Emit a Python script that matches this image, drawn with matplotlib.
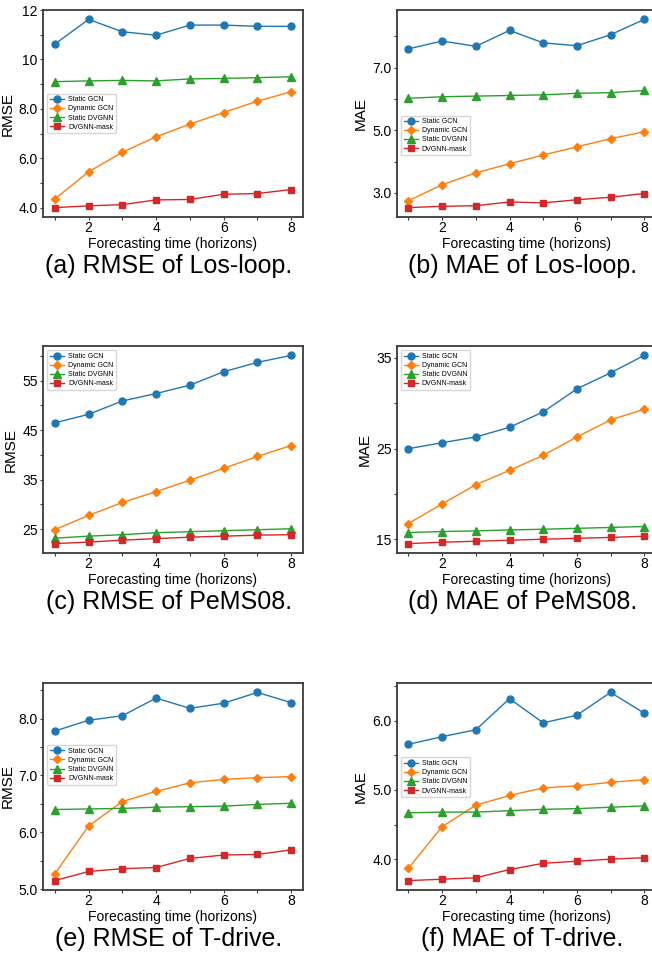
import matplotlib
matplotlib.use("Agg")
import matplotlib.pyplot as plt

plt.rcParams["font.family"] = ["Liberation Sans", "DejaVu Sans"]

horizons = [1, 2, 3, 4, 5, 6, 7, 8]
model_names = ["Static GCN", "Dynamic GCN", "Static DVGNN", "DVGNN-mask"]

# Los-loop
los_rmse_static_gcn = [10.62, 11.62, 11.12, 10.98, 11.39, 11.39, 11.34, 11.34]
los_rmse_dynamic_gcn = [4.35, 5.45, 6.24, 6.87, 7.38, 7.85, 8.31, 8.69]
los_rmse_static_dvgnn = [9.10, 9.13, 9.15, 9.13, 9.21, 9.23, 9.26, 9.30]
los_rmse_dvgnn_mask = [4.00, 4.07, 4.12, 4.31, 4.33, 4.54, 4.57, 4.73]

los_mae_static_gcn = [7.60, 7.85, 7.68, 8.19, 7.79, 7.70, 8.05, 8.54]
los_mae_dynamic_gcn = [2.75, 3.26, 3.64, 3.93, 4.21, 4.47, 4.73, 4.95]
los_mae_static_dvgnn = [6.02, 6.07, 6.09, 6.11, 6.13, 6.18, 6.20, 6.27]
los_mae_dvgnn_mask = [2.53, 2.57, 2.59, 2.71, 2.68, 2.78, 2.86, 2.98]

# PeMS08
pems_rmse_static_gcn = [46.5, 48.2, 50.9, 52.4, 54.1, 56.8, 58.7, 60.1]
pems_rmse_dynamic_gcn = [24.9, 27.8, 30.4, 32.6, 34.9, 37.3, 39.7, 41.9]
pems_rmse_static_dvgnn = [23.2, 23.6, 23.9, 24.3, 24.5, 24.7, 24.9, 25.1]
pems_rmse_dvgnn_mask = [22.1, 22.4, 22.8, 23.1, 23.4, 23.6, 23.8, 23.9]

pems_mae_static_gcn = [24.98, 25.64, 26.27, 27.34, 29.03, 31.57, 33.34, 35.26]
pems_mae_dynamic_gcn = [16.73, 18.90, 21.00, 22.59, 24.24, 26.27, 28.15, 29.33]
pems_mae_static_dvgnn = [15.74, 15.85, 15.92, 16.03, 16.10, 16.20, 16.30, 16.40]
pems_mae_dvgnn_mask = [14.52, 14.67, 14.78, 14.89, 15.00, 15.10, 15.20, 15.33]

# T-drive
tdrive_rmse_static_gcn = [7.78, 7.97, 8.05, 8.36, 8.18, 8.27, 8.46, 8.28]
tdrive_rmse_dynamic_gcn = [5.27, 6.11, 6.54, 6.72, 6.87, 6.93, 6.96, 6.98]
tdrive_rmse_static_dvgnn = [6.40, 6.41, 6.42, 6.44, 6.45, 6.46, 6.49, 6.51]
tdrive_rmse_dvgnn_mask = [5.15, 5.31, 5.36, 5.38, 5.54, 5.60, 5.61, 5.69]

tdrive_mae_static_gcn = [5.66, 5.77, 5.87, 6.32, 5.97, 6.08, 6.41, 6.11]
tdrive_mae_dynamic_gcn = [3.87, 4.47, 4.78, 4.92, 5.03, 5.06, 5.11, 5.15]
tdrive_mae_static_dvgnn = [4.67, 4.68, 4.68, 4.70, 4.72, 4.73, 4.75, 4.77]
tdrive_mae_dvgnn_mask = [3.69, 3.71, 3.73, 3.85, 3.94, 3.97, 4.00, 4.02]

# y tick positions and their labels (unlabelled ticks in between)
los_rmse_ticks = [4, 5, 6, 7, 8, 9, 10, 11, 12]
los_rmse_ticklabels = ["4.0", "", "6.0", "", "8.0", "", "10", "", "12"]
los_mae_ticks = [3, 4, 5, 6, 7, 8]
los_mae_ticklabels = ["3.0", "", "5.0", "", "7.0", ""]
pems_rmse_ticks = [25, 30, 35, 40, 45, 50, 55, 60]
pems_rmse_ticklabels = ["25", "", "35", "", "45", "", "55", ""]
pems_mae_ticks = [15, 20, 25, 30, 35]
pems_mae_ticklabels = ["15", "", "25", "", "35"]
tdrive_rmse_ticks = [5.0, 5.5, 6.0, 6.5, 7.0, 7.5, 8.0, 8.5]
tdrive_rmse_ticklabels = ["5.0", "", "6.0", "", "7.0", "", "8.0", ""]
tdrive_mae_ticks = [4.0, 4.5, 5.0, 5.5, 6.0, 6.5]
tdrive_mae_ticklabels = ["4.0", "", "5.0", "", "6.0", ""]

x_ticklabels = ["", "2", "", "4", "", "6", "", "8"]

captions = [
    "(a) RMSE of Los-loop.", "(b) MAE of Los-loop.",
    "(c) RMSE of PeMS08.", "(d) MAE of PeMS08.",
    "(e) RMSE of T-drive.", "(f) MAE of T-drive.",
]

colors = ["#1f77b4", "#ff7f0e", "#2ca02c", "#d62728"]
markers = ["o", "D", "^", "s"]
msizes = [5.0, 3.8, 6.0, 4.4]

panels = [
    ("RMSE", [los_rmse_static_gcn, los_rmse_dynamic_gcn, los_rmse_static_dvgnn, los_rmse_dvgnn_mask],
     los_rmse_ticks, los_rmse_ticklabels, dict(loc="center left", bbox_to_anchor=(0, 0.5))),
    ("MAE", [los_mae_static_gcn, los_mae_dynamic_gcn, los_mae_static_dvgnn, los_mae_dvgnn_mask],
     los_mae_ticks, los_mae_ticklabels, dict(loc="center left", bbox_to_anchor=(0, 0.394))),
    ("RMSE", [pems_rmse_static_gcn, pems_rmse_dynamic_gcn, pems_rmse_static_dvgnn, pems_rmse_dvgnn_mask],
     pems_rmse_ticks, pems_rmse_ticklabels, dict(loc="upper left")),
    ("MAE", [pems_mae_static_gcn, pems_mae_dynamic_gcn, pems_mae_static_dvgnn, pems_mae_dvgnn_mask],
     pems_mae_ticks, pems_mae_ticklabels, dict(loc="upper left")),
    ("RMSE", [tdrive_rmse_static_gcn, tdrive_rmse_dynamic_gcn, tdrive_rmse_static_dvgnn, tdrive_rmse_dvgnn_mask],
     tdrive_rmse_ticks, tdrive_rmse_ticklabels, dict(loc="center left", bbox_to_anchor=(0, 0.604))),
    ("MAE", [tdrive_mae_static_gcn, tdrive_mae_dynamic_gcn, tdrive_mae_static_dvgnn, tdrive_mae_dvgnn_mask],
     tdrive_mae_ticks, tdrive_mae_ticklabels, dict(loc="center left", bbox_to_anchor=(0, 0.544))),
]

W, H = 652, 957
fig = plt.figure(figsize=(W / 100, H / 100), dpi=100)

col_left = [43, 396.7]
col_width = [260, 259.3]
row_top = [10, 346, 683]
ax_h = 207
caption_x = [169, 522.5]

spine_color = "#3a3a3a"

for i, (ylabel, series, yticks, yticklabels, leg_kw) in enumerate(panels):
    r, c = divmod(i, 2)
    left, top, width = col_left[c], row_top[r], col_width[c]
    ax = fig.add_axes([left / W, 1 - (top + ax_h) / H, width / W, ax_h / H])
    for name, ys, col, mk, ms in zip(model_names, series, colors, markers, msizes):
        ax.plot(horizons, ys, color=col, marker=mk, markersize=ms, linewidth=1.0, label=name)
    ax.set_xticks(horizons)
    ax.set_xticklabels(x_ticklabels)
    ax.set_yticks(yticks)
    ax.set_yticklabels(yticklabels)
    ax.tick_params(axis="both", labelsize=10, length=2.2, width=0.8, colors=spine_color,
                   labelcolor="black")
    ax.tick_params(axis="x", pad=0.8)
    ax.tick_params(axis="y", pad=1.5)
    for sp in ax.spines.values():
        sp.set_color(spine_color)
        sp.set_linewidth(1.3)
    ax.set_xlabel("Forecasting time (horizons)", fontsize=10, labelpad=1)
    ax.set_ylabel(ylabel, fontsize=11, labelpad=3)
    ax.legend(fontsize=5, labelspacing=0.3, handlelength=2.0, handletextpad=0.6,
              borderpad=0.4, borderaxespad=0.6, **leg_kw)
    fig.text(caption_x[c] / W, 1 - (top + ax_h + 56) / H, captions[i], fontsize=18,
             ha="center", va="baseline")

fig.savefig("out.png", dpi=100)
